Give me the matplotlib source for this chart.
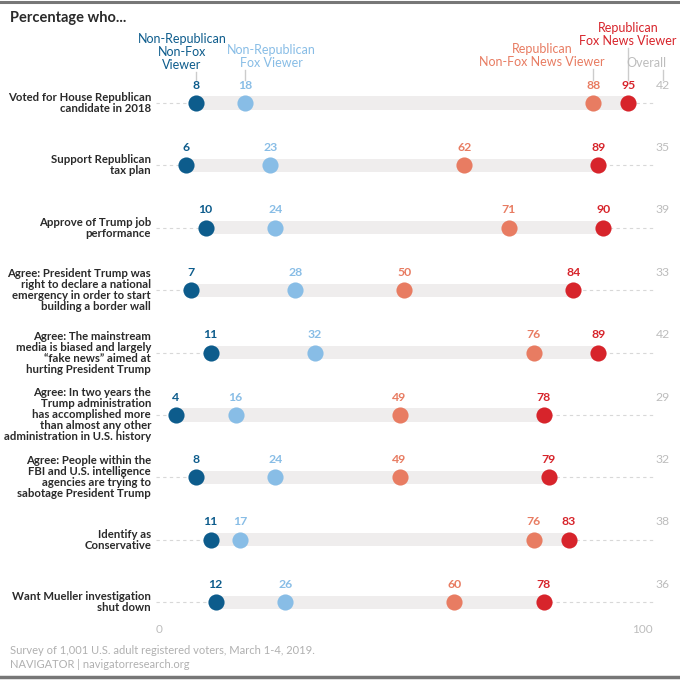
import numpy as np
import matplotlib.pyplot as plt

plt.rcParams['font.family'] = ['Lato', 'DejaVu Sans']

# data
questions = [
    'Voted for House Republican\ncandidate in 2018',
    'Support Republican\ntax plan',
    'Approve of Trump job\nperformance',
    'Agree: President Trump was\nright to declare a national\nemergency in order to start\nbuilding a border wall',
    'Agree: The mainstream\nmedia is biased and largely\n\u201cfake news\u201d aimed at\nhurting President Trump',
    'Agree: In two years the\nTrump administration\nhas accomplished more\nthan almost any other\nadministration in U.S. history',
    'Agree: People within the\nFBI and U.S. intelligence\nagencies are trying to\nsabotage President Trump',
    'Identify as\nConservative',
    'Want Mueller investigation\nshut down',
]
nonrep_nonfox = [8, 6, 10, 7, 11, 4, 8, 11, 12]
nonrep_fox = [18, 23, 24, 28, 32, 16, 24, 17, 26]
rep_nonfox = [88, 62, 71, 50, 76, 49, 49, 76, 60]
rep_fox = [95, 89, 90, 84, 89, 78, 79, 83, 78]
overall = [42, 35, 39, 33, 42, 29, 32, 38, 36]

groups = ['Non-Republican\nNon-Fox\nViewer', 'Non-Republican\nFox Viewer',
          'Republican\nNon-Fox News Viewer', 'Republican\nFox News Viewer']
colors = ['#0d5c8c', '#88bde6', '#e87c62', '#d7242b']
gray = '#bdbdbd'

fig = plt.figure(figsize=(6.8, 6.8), dpi=100)
ax = fig.add_axes([0, 0, 1, 1])
# pixel mapping: x=0 -> 156px, x=100 -> 653px; rows start at 103px, 62.4px apart
ax.set_xlim(-156 / 4.97, (680 - 156) / 4.97)
ax.set_ylim((680 - 103) / 62.4, -103 / 62.4)
ax.axis('off')

def px(p):
    # pixel row -> y data
    return (p - 103) / 62.4

series = [nonrep_nonfox, nonrep_fox, rep_nonfox, rep_fox]
n = len(questions)
for i in range(n):
    vals = [s[i] for s in series]
    lo, hi = min(vals), max(vals)
    ax.plot([0, 100], [i, i], color='#d8d8d8', lw=0.8, ls=(0, (3, 3)), zorder=1)
    ax.barh(i, hi - lo, left=lo, height=0.21, color='#efeded', zorder=2)
    for v, c in zip(vals, colors):
        ax.scatter(v, i, s=135, color=c, zorder=3, linewidths=0)
        ax.text(v, i - 0.2, str(v), color=c, fontsize=8.8, fontweight='bold',
                ha='center', va='bottom', zorder=4)
    ax.text(102, i - 0.2, str(overall[i]), color=gray, fontsize=8.8,
            ha='center', va='bottom')
    ax.text(-1, i, questions[i], fontsize=8.2, fontweight='bold', color='#2a2a2a',
            ha='right', va='center', linespacing=1.0)

# group header labels with connector lines
label_bottoms = [72, 70, 69, 48]
label_shift = [-2.8, 5.2, -10.3, 0]
for g, c, b, d, v in zip(groups, colors, label_bottoms, label_shift, [s[0] for s in series]):
    ax.text(v + d, px(b - 1), g, color=c, fontsize=9, ha='center', va='bottom',
            linespacing=1.08)
    ax.plot([v, v], [px(b), px(80)], color='#cccccc', lw=1)
ax.text(102.8, px(69), 'Overall', color=gray, fontsize=9, ha='right', va='bottom')
ax.plot([102, 102], [px(70), px(80)], color='#cccccc', lw=1)

ax.text(-31.4 + 10 / 4.97, px(18), 'Percentage who...', fontsize=10.5, fontweight='bold',
        color='#2a2a2a', ha='left', va='center')

ax.text(0, px(630), '0', color=gray, fontsize=8.5, ha='left', va='center')
ax.text(100, px(630), '100', color=gray, fontsize=8.5, ha='right', va='center')

fig.text(10 / 680, 1 - 650 / 680, 'Survey of 1,001 U.S. adult registered voters, March 1-4, 2019.',
         color='#b0b0b0', fontsize=8, ha='left', va='center')
fig.text(10 / 680, 1 - 664 / 680, 'NAVIGATOR | navigatorresearch.org',
         color='#b0b0b0', fontsize=8, ha='left', va='center')

fig.add_artist(plt.Line2D([0, 1], [1 - 1.5 / 680, 1 - 1.5 / 680], color='#777777', lw=2.2))
fig.add_artist(plt.Line2D([0, 1], [3 / 680, 3 / 680], color='#777777', lw=2.5))

fig.savefig('out.png', dpi=100)
